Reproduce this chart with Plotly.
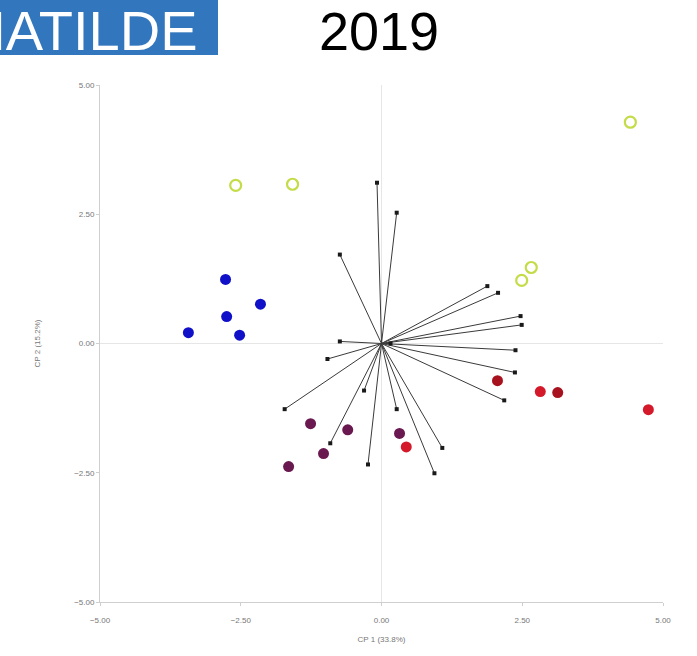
import plotly.graph_objects as go

# --- Data ---
yellow_x = [4.42, -2.59, -1.58, 2.66, 2.49]
yellow_y = [4.28, 3.06, 3.08, 1.47, 1.22]

blue_x = [-2.77, -2.15, -2.75, -3.43, -2.52]
blue_y = [1.24, 0.76, 0.52, 0.21, 0.16]

purple_x = [-1.26, -0.60, -1.03, -1.65, 0.32]
purple_y = [-1.55, -1.67, -2.13, -2.38, -1.74]

red_x = [0.44, 2.82, 4.74]
red_y = [-2.00, -0.93, -1.28]

darkred_x = [2.06, 3.13]
darkred_y = [-0.72, -0.95]

vec_x = [-0.08, 0.27, -0.74, -0.74, -0.96, -1.72, -0.31, -0.91, -0.24, 0.27,
         1.08, 0.94, 1.88, 2.07, 2.47, 2.49, 2.38, 2.37, 2.18, 0.16]
vec_y = [3.11, 2.53, 1.72, 0.04, -0.30, -1.27, -0.91, -1.93, -2.34, -1.27,
         -2.02, -2.51, 1.11, 0.98, 0.53, 0.36, -0.13, -0.56, -1.10, 0.00]

x_ticks = [-5, -2.5, 0, 2.5, 5]
y_ticks = [-5, -2.5, 0, 2.5, 5]

title_left = "MATILDE"
title_year = "2019"
x_title = "CP 1 (33.8%)"
y_title = "CP 2 (15.2%)"

# --- Figure ---
fig = go.Figure()

line_x, line_y = [], []
for vx, vy in zip(vec_x, vec_y):
    line_x += [0, vx, None]
    line_y += [0, vy, None]

fig.add_trace(go.Scatter(x=line_x, y=line_y, mode="lines",
                         line=dict(color="#3a3a3a", width=1), hoverinfo="skip"))
fig.add_trace(go.Scatter(x=vec_x, y=vec_y, mode="markers",
                         marker=dict(symbol="square", size=4, color="#1a1a1a")))

fig.add_trace(go.Scatter(x=yellow_x, y=yellow_y, mode="markers",
                         marker=dict(symbol="circle-open", size=11,
                                     color="#c4dc48", line=dict(width=2.2, color="#c4dc48"))))
fig.add_trace(go.Scatter(x=blue_x, y=blue_y, mode="markers",
                         marker=dict(size=11, color="#1010c8", line=dict(width=0))))
fig.add_trace(go.Scatter(x=purple_x, y=purple_y, mode="markers",
                         marker=dict(size=11, color="#6a1850", line=dict(width=0))))
fig.add_trace(go.Scatter(x=red_x, y=red_y, mode="markers",
                         marker=dict(size=11, color="#d41a2a", line=dict(width=0))))
fig.add_trace(go.Scatter(x=darkred_x, y=darkred_y, mode="markers",
                         marker=dict(size=11, color="#a8121e", line=dict(width=0))))

axis_common = dict(
    range=[-5, 5], tickformat=".2f", showgrid=False,
    zeroline=True, zerolinecolor="#e6e6e6", zerolinewidth=1,
    showline=True, linecolor="#cfcfcf", linewidth=1,
    ticks="outside", ticklen=3, tickcolor="#cfcfcf",
    tickfont=dict(family="Liberation Sans, Arial", size=8, color="#777777"),
    title_font=dict(family="Liberation Sans, Arial", size=8, color="#777777"),
)

fig.update_layout(
    width=697, height=656,
    paper_bgcolor="white", plot_bgcolor="white",
    showlegend=False,
    margin=dict(l=100, r=34, t=85, b=54),
    xaxis=dict(tickvals=x_ticks, ticklabelstandoff=7,
               title=dict(text=x_title, standoff=12), **axis_common),
    yaxis=dict(tickvals=y_ticks, title=dict(text=y_title, standoff=32), **axis_common),
)

# Title box and texts
fig.add_shape(type="rect", xref="paper", yref="paper",
              x0=-0.2, x1=(218 - 100) / 563, y0=(602 - 55) / 517, y1=1.2,
              fillcolor="#3277be", line=dict(width=0), layer="above")
fig.add_annotation(xref="paper", yref="paper", x=(200 - 100) / 563, y=(602 - 31) / 517,
                   xanchor="right", yanchor="middle", showarrow=False,
                   text=title_left, font=dict(family="Liberation Sans, Arial", size=56, color="white"))
fig.add_annotation(xref="paper", yref="paper", x=(379 - 100) / 563, y=(602 - 31) / 517,
                   xanchor="center", yanchor="middle", showarrow=False,
                   text=title_year, font=dict(family="Liberation Sans, Arial", size=54, color="black"))

fig.write_html("out.html", config={"displayModeBar": False},
               post_script="document.body.style.margin='0';")
